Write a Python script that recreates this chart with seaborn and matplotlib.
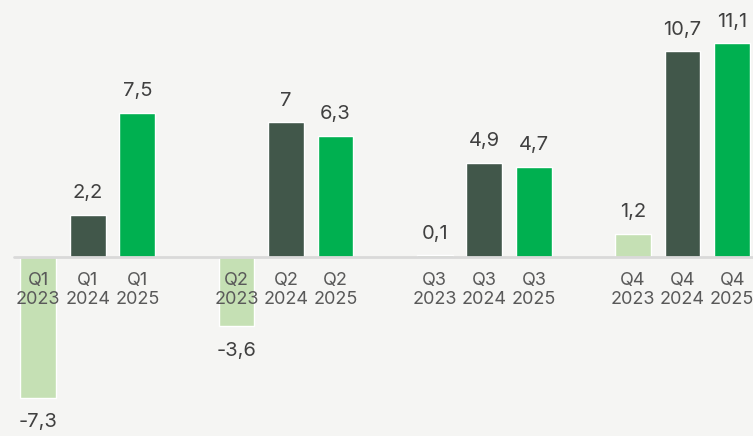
import matplotlib
matplotlib.use("Agg")
import matplotlib.pyplot as plt
import seaborn as sns
import pandas as pd

quarters = ["Q1", "Q2", "Q3", "Q4"]
years = ["2023", "2024", "2025"]
values_2023 = [-7.3, -3.6, 0.1, 1.2]
values_2024 = [2.2, 7.0, 4.9, 10.7]
values_2025 = [7.5, 6.3, 4.7, 11.1]
colors = {"2023": "#c5e0b4", "2024": "#41574a", "2025": "#00b050"}

rows = []
series = {"2023": values_2023, "2024": values_2024, "2025": values_2025}
for qi, q in enumerate(quarters):
    for yi, y in enumerate(years):
        rows.append({"pos": qi * 4 + yi, "quarter": q, "year": y, "value": series[y][qi]})
df = pd.DataFrame(rows)

sns.set_style("white")
plt.rcParams["font.family"] = ["Inter", "DejaVu Sans"]
fig = plt.figure(figsize=(7.53, 4.36), dpi=100, facecolor="#f5f5f3")
ax = fig.add_axes([0, 0, 1, 1])
ax.set_facecolor("#f5f5f3")

sns.barplot(data=df, x="pos", y="value", hue="year", palette=colors,
            native_scale=True, dodge=False, width=0.72, legend=False, ax=ax,
            saturation=1)

ax.set_xlim(-0.77, 14.42)
ax.set_ylim(-9.3, 13.35)
ax.axhline(0, xmin=(-0.48 + 0.77) / 15.19, xmax=1, color="#d9d9d9", lw=2, zorder=1)

for _, r in df.iterrows():
    v = r["value"]
    txt = f"{v:.1f}".replace(".", ",")
    if txt.endswith(",0"):
        txt = txt[:-2]
    if v >= 0:
        ax.annotate(txt, (r["pos"], v), xytext=(0, 9), textcoords="offset points",
                    ha="center", va="bottom", fontsize=14.5, color="#404040")
    else:
        ax.annotate(txt, (r["pos"], v), xytext=(0, -11), textcoords="offset points",
                    ha="center", va="top", fontsize=14.5, color="#404040")
    ax.annotate(f"{r['quarter']}\n{r['year']}", (r["pos"], 0), xytext=(0, -10.5),
                textcoords="offset points", ha="center", va="top", fontsize=13,
                color="#595959", linespacing=1.22)

ax.set_xticks([])
ax.set_yticks([])
ax.set_xlabel("")
ax.set_ylabel("")
for s in ax.spines.values():
    s.set_visible(False)

fig.savefig("out.png", dpi=100, facecolor=fig.get_facecolor())
